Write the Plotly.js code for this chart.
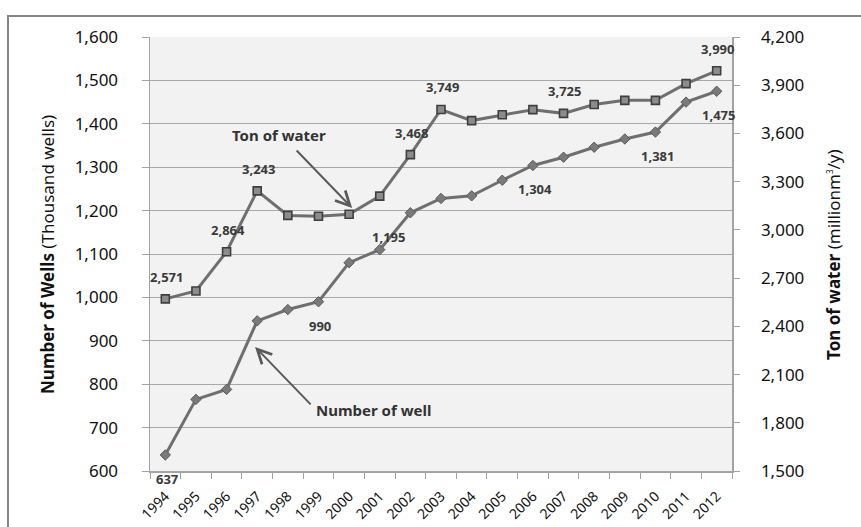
<!DOCTYPE html>
<html>
<head>
<meta charset="utf-8">
<script src="https://cdn.plot.ly/plotly-3.0.1.min.js"></script>
<style>
  html, body { margin: 0; padding: 0; background: #ffffff; }
  #chart { width: 861px; height: 527px; }
</style>
</head>
<body>
<div id="chart"></div>
<script>
// ---- data ----
var years = ['1994','1995','1996','1997','1998','1999','2000','2001','2002','2003',
             '2004','2005','2006','2007','2008','2009','2010','2011','2012'];
// Number of wells (thousand wells) - left axis
var wells = [637, 765, 788, 946, 972, 990, 1080, 1110, 1195, 1228,
             1234, 1270, 1304, 1323, 1346, 1365, 1381, 1450, 1475];
// Ton of water (million m3/y) - right axis
var water = [2571, 2620, 2864, 3243, 3090, 3085, 3097, 3210, 3468, 3749,
             3680, 3716, 3748, 3725, 3780, 3806, 3806, 3910, 3990];
// years whose values are labelled
var waterLabelled = ['1994','1996','1997','2002','2003','2007','2012'];
var wellsLabelled = ['1994','1999','2002','2006','2010','2012'];
// tick labels
var leftTicks = [600, 700, 800, 900, 1000, 1100, 1200, 1300, 1400, 1500, 1600];
var rightTicks = [1500, 1800, 2100, 2400, 2700, 3000, 3300, 3600, 3900, 4200];

var FONT = 'Noto Sans, Open Sans, DejaVu Sans, sans-serif';
var lineCol = '#6f6f6f';
var axisCol = '#a3a3a3';

function fmt(v) { return v.toLocaleString('en-US'); }

var traceWater = {
  x: years, y: water, yaxis: 'y2', type: 'scatter', mode: 'lines+markers',
  name: 'Ton of water',
  line: { color: lineCol, width: 3 },
  marker: { symbol: 'square', size: 8, color: '#8c8c8c', line: { color: '#3f3f3f', width: 1.6 } },
  hoverinfo: 'x+y'
};
var traceWells = {
  x: years, y: wells, yaxis: 'y', type: 'scatter', mode: 'lines+markers',
  name: 'Number of well',
  line: { color: lineCol, width: 3 },
  marker: { symbol: 'diamond', size: 8, color: '#7a7a7a', line: { color: '#5a5a5a', width: 1 } },
  hoverinfo: 'x+y'
};

var annotations = [];
// value labels (x given as category index)
years.forEach(function (yr, i) {
  if (waterLabelled.indexOf(yr) >= 0) {
    annotations.push({
      x: i, y: water[i], xref: 'x', yref: 'y2', text: fmt(water[i]),
      showarrow: false, yshift: 22, xshift: 1,
      font: { family: FONT, size: 13, color: '#3a3a3a', weight: 'bold' }
    });
  }
  if (wellsLabelled.indexOf(yr) >= 0) {
    annotations.push({
      x: i, y: wells[i], xref: 'x', yref: 'y', text: fmt(wells[i]),
      showarrow: false, yshift: -24, xshift: (yr === '2002' ? -22 : 2),
      font: { family: FONT, size: 13, color: '#3a3a3a', weight: 'bold' }
    });
  }
});

// callout labels with arrows
annotations.push({
  x: 6.1, y: 1206, xref: 'x', yref: 'y', text: '', showarrow: true,
  ax: -57, ay: -59, arrowhead: 5, arrowsize: 1.4, arrowwidth: 2, arrowcolor: '#5a5a5a'
});
annotations.push({
  x: 3.71, y: 1374, xref: 'x', yref: 'y', text: 'Ton of water', showarrow: false,
  font: { family: FONT, size: 15, color: '#333333', weight: 'bold' }
});
annotations.push({
  x: 2.93, y: 886, xref: 'x', yref: 'y', text: '', showarrow: true,
  ax: 57, ay: 59, arrowhead: 5, arrowsize: 1.4, arrowwidth: 2, arrowcolor: '#5a5a5a'
});
annotations.push({
  x: 4.85, y: 740, xref: 'x', yref: 'y', text: 'Number of well', showarrow: false,
  xanchor: 'left',
  font: { family: FONT, size: 15, color: '#333333', weight: 'bold' }
});

// axis titles
annotations.push({
  x: -0.177, y: 0.5, xref: 'paper', yref: 'paper', textangle: -90, showarrow: false,
  xanchor: 'center', yanchor: 'middle',
  text: '<b>Number of Wells</b> (Thousand wells)',
  font: { family: FONT, size: 17, color: '#111111' }
});
annotations.push({
  x: 1.1735, y: 0.5, xref: 'paper', yref: 'paper', textangle: -90, showarrow: false,
  xanchor: 'center', yanchor: 'middle',
  text: '<b>Ton of water</b> (millionm<sup><span style="font-size:8px">3</span></sup>/y)',
  font: { family: FONT, size: 17, color: '#111111' }
});

var layout = {
  width: 861, height: 527,
  margin: { l: 150, r: 129, t: 37, b: 56 },
  paper_bgcolor: '#ffffff', plot_bgcolor: '#f2f2f2',
  showlegend: false,
  font: { family: FONT, color: '#111111' },
  xaxis: {
    type: 'category', range: [-0.5, years.length - 0.5], autorange: false,
    tickangle: -45, tickson: 'boundaries',
    ticks: 'outside', ticklen: 6, tickcolor: axisCol, tickwidth: 1,
    showline: true, linecolor: axisCol, linewidth: 1.5, showgrid: false,
    tickfont: { family: FONT, size: 14, color: '#111111' },
    ticklabelstandoff: 10, fixedrange: true
  },
  yaxis: {
    range: [600, 1600], autorange: false, tickmode: 'array', tickvals: leftTicks,
    ticktext: leftTicks.map(fmt),
    ticks: 'outside', ticklen: 7, tickcolor: axisCol,
    showline: true, linecolor: axisCol, linewidth: 1.5,
    showgrid: true, gridcolor: '#a8a8a8', gridwidth: 1, zeroline: false,
    tickfont: { family: FONT, size: 17, color: '#111111' },
    ticklabelstandoff: 20, fixedrange: true
  },
  yaxis2: {
    range: [1500, 4200], autorange: false, overlaying: 'y', side: 'right',
    tickmode: 'array', tickvals: rightTicks, ticktext: rightTicks.map(fmt),
    ticks: 'outside', ticklen: 6, tickcolor: axisCol,
    showline: true, linecolor: axisCol, linewidth: 1.5,
    showgrid: false, zeroline: false,
    tickfont: { family: FONT, size: 17, color: '#111111' },
    ticklabelstandoff: 18, fixedrange: true
  },
  annotations: annotations,
  shapes: [{
    type: 'rect', xref: 'paper', yref: 'paper',
    x0: -0.244, x1: 1.26, y0: -0.25, y1: 1.0485,
    line: { color: '#878787', width: 2 }, fillcolor: 'rgba(0,0,0,0)', layer: 'below'
  }]
};

Plotly.newPlot('chart', [traceWells, traceWater], layout, { displayModeBar: false, staticPlot: true });
</script>
</body>
</html>
